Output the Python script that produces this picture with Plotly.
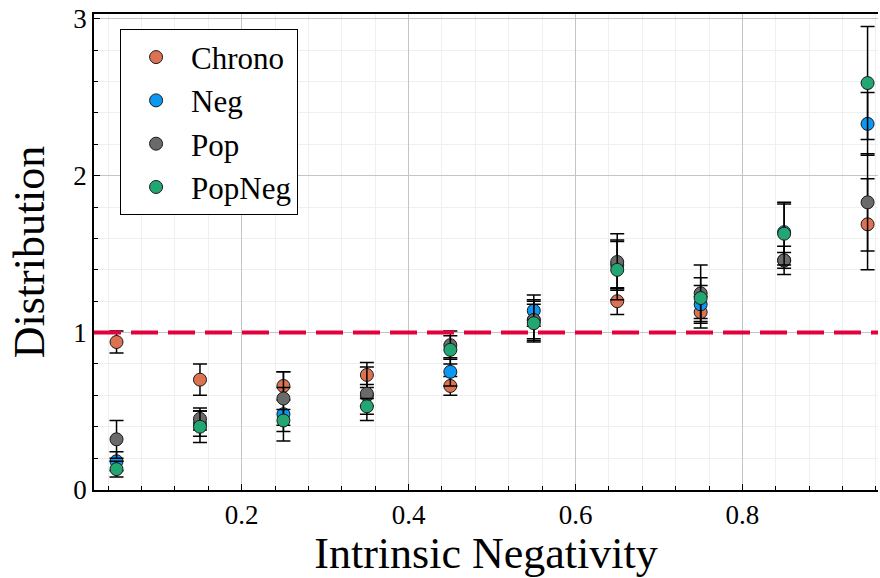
import plotly.graph_objects as go

# ---- data ----
x_vals = [0.05, 0.15, 0.25, 0.35, 0.45, 0.55, 0.65, 0.75, 0.85, 0.95]

series_names = ["Chrono", "Neg", "Pop", "PopNeg"]

chrono = [0.94, 0.70, 0.66, 0.73, 0.66, 1.08, 1.20, 1.13, 1.46, 1.69]
chrono_err = [0.07, 0.10, 0.09, 0.08, 0.06, 0.13, 0.085, 0.10, 0.05, 0.29]

neg = [0.18, 0.42, 0.48, 0.60, 0.75, 1.14, 1.43, 1.18, 1.64, 2.33]
neg_err = [0.06, 0.08, 0.17, 0.07, 0.09, 0.10, 0.15, 0.12, 0.18, 0.20]

pop = [0.32, 0.45, 0.58, 0.61, 0.92, 1.08, 1.45, 1.25, 1.46, 1.83]
pop_err = [0.12, 0.07, 0.17, 0.17, 0.09, 0.12, 0.18, 0.18, 0.09, 0.31]

popneg = [0.13, 0.40, 0.44, 0.53, 0.89, 1.06, 1.40, 1.22, 1.63, 2.59]
popneg_err = [0.05, 0.10, 0.07, 0.05, 0.09, 0.12, 0.19, 0.13, 0.20, 0.36]

ref_level = 1.0

x_ticks = [0.2, 0.4, 0.6, 0.8]
x_tick_labels = ["0.2", "0.4", "0.6", "0.8"]
y_ticks = [0, 1, 2, 3]
y_tick_labels = ["0", "1", "2", "3"]

# ---- styles ----
colors = ["#DD7252", "#0A98F2", "#6A6A6A", "#22A672"]
FONT = "Liberation Serif, Times New Roman, serif"

fig = go.Figure()
values = [chrono, neg, pop, popneg]
errors = [chrono_err, neg_err, pop_err, popneg_err]
for name, ys, es, col in zip(series_names, values, errors, colors):
    fig.add_trace(go.Scatter(
        x=x_vals, y=ys, name=name, mode="markers", cliponaxis=False,
        marker=dict(size=13, color=col, line=dict(color="#1a1a1a", width=1)),
        error_y=dict(type="data", array=es, visible=True,
                     color="black", thickness=1.5, width=7),
    ))

fig.add_hline(y=ref_level, line=dict(color="#E4003A", width=4, dash="27px,10px"))

fig.update_layout(
    width=880, height=578,
    margin=dict(l=94, r=2, t=14, b=88, autoexpand=False),
    paper_bgcolor="white", plot_bgcolor="white",
    font=dict(family=FONT, color="black"),
    showlegend=True,
    legend=dict(
        x=0.033, y=0.968, xanchor="left", yanchor="top",
        bgcolor="white", bordercolor="black", borderwidth=1.2,
        font=dict(family=FONT, size=31, color="black"),
        itemsizing="trace", itemwidth=60,
    ),
)

fig.update_xaxes(
    automargin=False,
    range=[0.023, 0.9625],
    tickmode="array", tickvals=x_ticks, ticktext=x_tick_labels,
    tickfont=dict(family=FONT, size=27, color="black"),
    ticks="inside", ticklen=6, tickcolor="black",
    showline=True, linecolor="black", linewidth=1.8, mirror=True,
    showgrid=True, gridcolor="#c4c4c4", gridwidth=1,
    minor=dict(dtick=0.04, tick0=0.0, showgrid=True, gridcolor="#efefef",
               ticks="inside", ticklen=4, tickcolor="black"),
    zeroline=False,
    title=dict(text="Intrinsic Negativity", font=dict(family=FONT, size=44, color="black")),
)

fig.update_yaxes(
    automargin=False,
    range=[-0.003, 3.03],
    tickmode="array", tickvals=y_ticks, ticktext=y_tick_labels,
    tickfont=dict(family=FONT, size=27, color="black"),
    ticks="inside", ticklen=6, tickcolor="black",
    showline=True, linecolor="black", linewidth=1.8,
    showgrid=True, gridcolor="#c4c4c4", gridwidth=1,
    minor=dict(dtick=0.2, tick0=0.0, showgrid=True, gridcolor="#efefef",
               ticks="inside", ticklen=4, tickcolor="black"),
    zeroline=False,
    title=dict(text="Distribution", font=dict(family=FONT, size=44, color="black")),
)

fig.write_html("out.html", config={"displayModeBar": False},
               post_script="document.body.style.margin='0px';")
